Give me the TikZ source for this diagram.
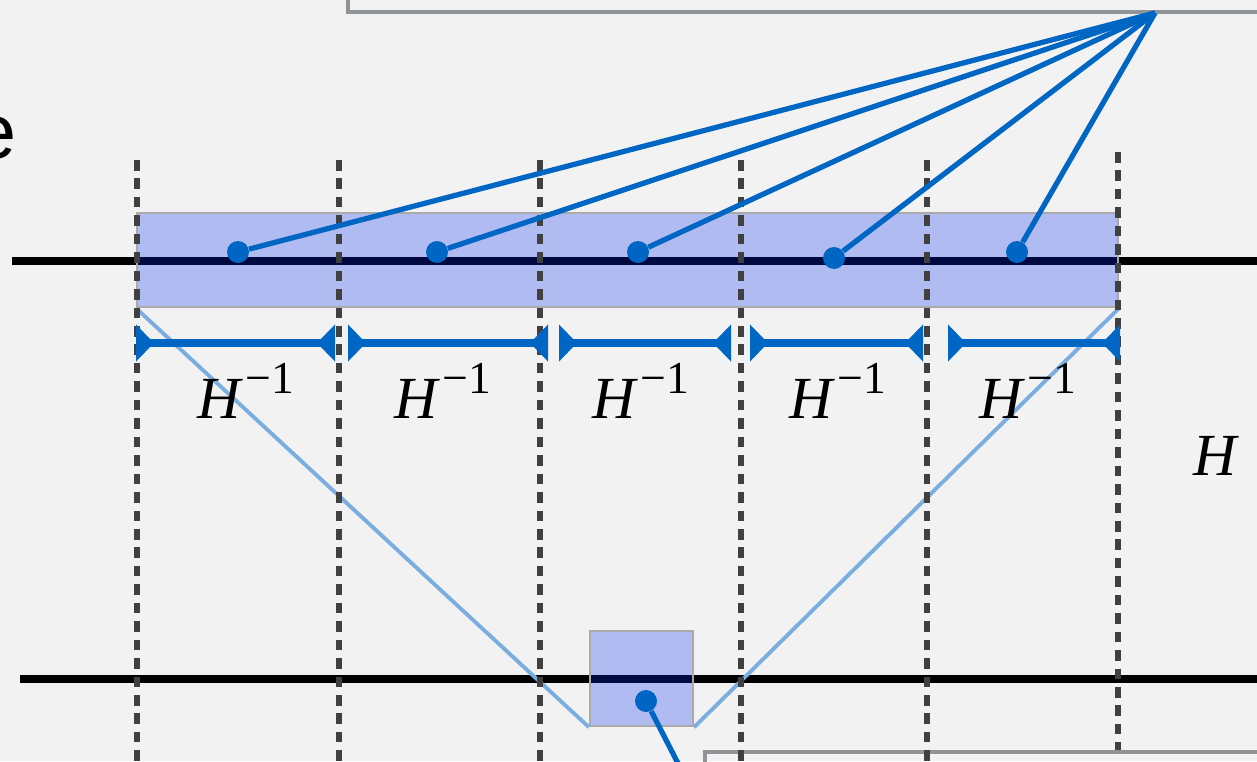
\documentclass[tikz,border=0pt]{standalone}
\usepackage{fontspec}
\setmainfont{Liberation Serif}
\newfontfamily\sansf{Liberation Sans}
\usetikzlibrary{arrows.meta}
\definecolor{bg}{RGB}{242,242,242}
\definecolor{dotblue}{RGB}{0,102,196}
\definecolor{boxgray}{RGB}{144,147,152}
\definecolor{rectfill}{RGB}{0,40,240}
\definecolor{rectedge}{RGB}{170,170,170}
\definecolor{vblue}{RGB}{122,174,224}
\definecolor{dashgray}{RGB}{64,64,64}
\newcommand{\hinv}{{\itshape H}\kern2.5pt\raisebox{14pt}{\fontsize{26}{26}\selectfont −1}}
\begin{document}
\begin{tikzpicture}[x=0.02cm,y=-0.02cm,
  graybox/.style={draw=boxgray,line width=2.6pt},
  axisline/.style={black,line width=4.6pt},
  band/.style={draw=rectedge,line width=1.3pt,fill=rectfill,fill opacity=0.27,inner sep=0pt,rectangle},
  vline/.style={vblue,line width=2.2pt},
  grid/.style={dashgray,line width=3pt,dash pattern=on 6pt off 4.5pt},
  fan/.style={dotblue,line width=3pt},
  dot/.style={circle,fill=dotblue,inner sep=0pt,minimum size=0.44cm},
  bar/.style={dotblue,line width=4.2pt,
    arrows={Triangle[reversed,length=0.36cm,width=0.72cm]-Triangle[reversed,length=0.36cm,width=0.72cm]}},
  lab/.style={font=\fontsize{34}{40}\selectfont,inner sep=0pt,anchor=base}]
\useasboundingbox (0,0) rectangle (1257,761);
\clip (0,0) rectangle (1257,761);
\fill[bg] (0,0) rectangle (1257,761);
% frames of neighbouring boxes
\draw[graybox] (348,-20) rectangle (1300,12);
\draw[graybox] (705,752) rectangle (1300,800);
% cut-off word
\node[anchor=base east,inner sep=0pt,font=\sansf\fontsize{44}{50}\selectfont] (e) at (17,158) {e};
% axis lines
\coordinate (ta) at (12,261); \coordinate (tb) at (1257,261);
\coordinate (ba) at (20,679); \coordinate (bb) at (1257,679);
\draw[axisline] (ta) -- (tb);
\draw[axisline] (ba) -- (bb);
% bands
\node[band,minimum width=19.62cm,minimum height=1.88cm] (bandtop) at (627.5,260) {};
\node[band,minimum width=2.06cm,minimum height=1.9cm] (sq) at (641.5,678.5) {};
% light blue cone
\draw[vline] (bandtop.south west) -- (sq.south west);
\draw[vline] (bandtop.south east) -- (sq.south east);
% dashed verticals
\foreach \i/\x/\ya/\yb in {1/137/160/775,2/339/160/775,3/540/160/775,4/741/160/775,5/927/160/775,6/1118/152/750}{
  \coordinate (v\i a) at (\x,\ya);
  \coordinate (v\i b) at (\x,\yb);
  \draw[grid] (v\i a) -- (v\i b);
}
% bars
\foreach \i/\xa/\xb in {1/136/335,2/348/548,3/559/731,4/750/923,5/948/1120}{
  \coordinate (bs\i) at (\xa,343);
  \coordinate (be\i) at (\xb,343);
  \draw[bar] (bs\i) -- (be\i);
}
% labels
\foreach \i/\x in {1/246,2/443,3/641,4/838,5/1028}{
  \node[lab] (l\i) at (\x,418) {\hinv};
}
\node[lab] (h) at (1215,475) {\itshape H};
% dots and fan
\coordinate (apex) at (1155,13);
\node[dot] (d1) at (238,252) {};
\node[dot] (d2) at (437,252) {};
\node[dot] (d3) at (638,252) {};
\node[dot] (d4) at (834,258) {};
\node[dot] (d5) at (1017,252) {};
\foreach \i in {1,...,5}{\draw[fan] (d\i) -- (apex);}
\node[dot] (d6) at (646,701) {};
\coordinate (tail) at (684,775);
\draw[fan] (d6) -- (tail);
\end{tikzpicture}
\end{document}
